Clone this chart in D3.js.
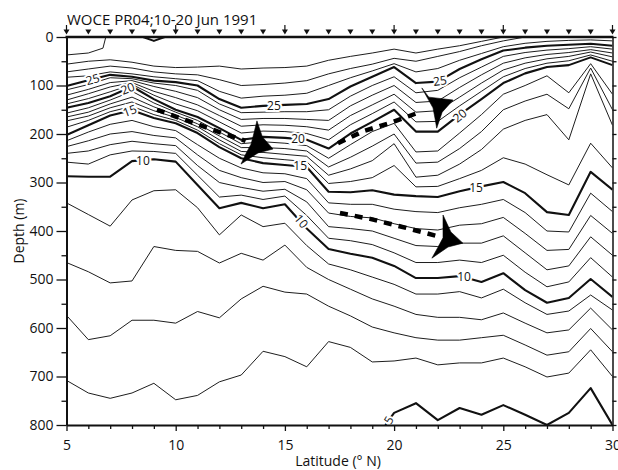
<!DOCTYPE html>
<html>
<head>
<meta charset="utf-8">
<script src="https://cdn.jsdelivr.net/npm/d3@7"></script>
<style>
  body { margin: 0; background: #fff; }
  text { font-family: "Open Sans", "Liberation Sans", sans-serif; }
</style>
</head>
<body>
<div id="chart"></div>
<script>
// station latitudes (deg N)
var stations = [5, 6, 7, 8, 9, 10, 11, 12, 13, 14, 15, 16, 17, 18, 19, 20, 21, 22, 23, 24, 25, 26, 27, 28, 29, 30];
var stemStations = [5, 10, 15, 20, 25, 30];

// isotherm depths (m) at each station
var t28 = [56, 50, 47, 52, 60, 63, 62, 60, 66, 64, 63, 60, 48, 40, 33, 25, 33, 25, 18, 9, 0, null, null, null, null, null];
var t27 = [72, 66, 60, 64, 72, 76, 78, 88, 100, 98, 95, 90, 76, 65, 56, 44, 50, 40, 30, 18, 8, 0, null, null, null, null];
var t26 = [83, 80, 72, 76, 82, 86, 90, 112, 126, 122, 120, 116, 100, 84, 70, 55, 72, 65, 48, 34, 20, 13, 9, 7, 6, 8];
var t25 = [101, 89, 78, 82, 90, 93, 100, 128, 146, 142, 140, 138, 128, 102, 82, 62, 95, 92, 66, 46, 28, 22, 18, 16, 14, 18];
var t24 = [109, 98, 84, 86, 95, 100, 110, 138, 156, 155, 154, 154, 150, 122, 100, 82, 115, 110, 84, 62, 40, 32, 27, 24, 20, 25];
var t23 = [120, 108, 94, 90, 102, 112, 125, 150, 170, 168, 168, 170, 172, 142, 120, 100, 135, 132, 104, 78, 54, 43, 36, 32, 26, 33];
var t22 = [130, 117, 103, 94, 112, 125, 140, 162, 184, 181, 182, 185, 192, 162, 140, 118, 155, 152, 124, 95, 68, 54, 45, 40, 31, 41];
var t21 = [138, 127, 113, 98, 120, 138, 152, 175, 198, 194, 195, 199, 212, 181, 158, 134, 175, 174, 142, 112, 82, 65, 54, 49, 37, 50];
var t20 = [146, 136, 122, 102, 128, 150, 165, 188, 212, 206, 208, 212, 230, 199, 175, 150, 195, 195, 160, 128, 95, 75, 62, 58, 42, 58];
var t19 = [157, 146, 130, 112, 136, 155, 172, 196, 220, 216, 219, 224, 250, 222, 195, 178, 237, 235, 198, 160, 118, 100, 80, 115, 55, 118];
var t18 = [165, 155, 138, 124, 144, 161, 179, 204, 228, 228, 230, 235, 268, 248, 225, 200, 260, 258, 230, 195, 150, 132, 118, 148, 64, 150];
var t17 = [173, 163, 146, 134, 152, 166, 185, 212, 236, 238, 242, 246, 285, 272, 255, 220, 289, 285, 262, 232, 190, 172, 160, 212, 76, 182];
var t16 = [186, 172, 154, 143, 160, 172, 192, 220, 243, 249, 253, 257, 302, 298, 290, 265, 309, 308, 292, 275, 249, 262, 284, 305, 219, 270];
var t15 = [202, 182, 162, 151, 167, 178, 198, 227, 250, 260, 264, 268, 319, 320, 316, 325, 328, 330, 318, 308, 299, 322, 361, 367, 278, 315];
var t14 = [214, 196, 180, 172, 185, 193, 222, 250, 270, 280, 282, 292, 342, 345, 345, 355, 360, 362, 352, 345, 335, 362, 400, 402, 322, 360];
var t13 = [226, 214, 200, 195, 203, 208, 243, 275, 290, 300, 298, 315, 363, 370, 373, 385, 395, 398, 388, 385, 372, 405, 440, 438, 368, 405];
var t12 = [240, 235, 222, 215, 220, 224, 265, 300, 310, 318, 314, 340, 391, 395, 400, 415, 430, 432, 425, 425, 410, 445, 480, 472, 412, 450];
var t11 = [258, 262, 243, 235, 236, 240, 285, 330, 326, 335, 328, 368, 415, 420, 428, 445, 465, 465, 460, 465, 450, 485, 515, 505, 455, 495];
var t10 = [287, 288, 288, 256, 252, 257, 305, 353, 342, 353, 345, 395, 437, 447, 455, 472, 497, 497, 493, 505, 487, 522, 548, 538, 499, 536];
var t9 = [342, 366, 390, 336, 317, 315, 352, 408, 367, 391, 384, 430, 468, 480, 495, 510, 530, 530, 525, 538, 520, 548, 572, 565, 532, 563];
var t8 = [465, 484, 507, 503, 432, 440, 442, 466, 446, 460, 429, 475, 500, 520, 540, 555, 572, 578, 578, 583, 569, 590, 610, 604, 559, 604];
var t7 = [574, 624, 616, 584, 584, 590, 566, 579, 540, 514, 526, 530, 555, 575, 598, 610, 620, 625, 625, 620, 615, 635, 656, 649, 601, 649];
var t6 = [708, 734, 745, 734, 714, 748, 739, 711, 697, 648, 659, 680, 628, 640, 670, 668, 662, 676, 672, 672, 662, 680, 701, 693, 645, 700];
var t5 = [null, null, null, null, null, null, null, null, null, null, null, null, null, null, null, 775, 755, 790, 765, 779, 759, 779, 800, 775, 724, 800];

// short pieces off the station grid: [lat, depth]
var t29Piece = [[5, 37], [6, 33], [6.67, 23], [6.8, 0]];
var surfacePocket = [[8.5, 0], [9, 8], [9.5, 0]];
var t5Start = [[19.6, 800]];

// contour labels: temp, lat, depth, angle
var contourLabels = [
    [25, 6.2, 87, -15], [20, 7.8, 106, -22], [15, 7.9, 152, -20], [10, 8.5, 254, 0],
    [25, 14.5, 142, 0], [20, 15.6, 210, 0], [15, 15.7, 266, 0], [10, 15.75, 380, 50],
    [25, 22.1, 90, -8], [20, 23.0, 162, -40], [15, 23.75, 311, 0], [10, 23.2, 495, 0],
    [5, 19.75, 790, -60]
];

// flow arrows: dashed shaft and swept head outline, in lat / depth
var arrowShafts = [
    [[9.14, 150], [10.5, 172], [12.0, 196], [13.2, 214]],
    [[17.43, 219], [18.6, 194], [19.9, 176], [21.05, 157]],
    [[17.52, 363], [18.9, 375], [20.5, 393], [22.1, 412]]
];
var arrowHeads = [
    [[14.455, 231], [13.97, 206], [13.72, 173], [13.59, 197], [13.45, 221], [13.22, 240], [12.99, 262], [13.77, 239]],
    [[22.70, 130], [21.59, 124], [21.27, 105], [21.53, 126], [21.78, 146], [21.87, 167], [21.95, 188], [22.20, 155]],
    [[23.15, 425], [22.60, 402], [22.24, 367], [22.24, 391], [22.24, 414], [21.99, 435], [21.73, 456], [22.47, 433]]
];

var depthTicks = [0, 100, 200, 300, 400, 500, 600, 700, 800];
var depthMinor = [50, 150, 250, 350, 450, 550, 650, 750];
var latTicks = [5, 10, 15, 20, 25, 30];

var svgWidth = 618;
var svgHeight = 470;
var margin = { top: 37, right: 5.5, bottom: 45, left: 66.5 };
var width = svgWidth - margin.left - margin.right;
var height = 388;

var svg = d3.select("#chart")
    .append("svg")
    .attr("width", svgWidth)
    .attr("height", svgHeight);

var chartGroup = svg.append("g")
    .attr("transform", `translate(${margin.left}, ${margin.top})`);

var xScale = d3.scaleLinear().domain([5, 30]).range([0, width]);
var yScale = d3.scaleLinear().domain([0, 800]).range([0, height]);

chartGroup.append("clipPath").attr("id", "plotClip")
    .append("rect").attr("width", width).attr("height", height);

var plot = chartGroup.append("g").attr("clip-path", "url(#plotClip)");

var line = d3.line()
    .defined(d => d[1] !== null)
    .x(d => xScale(d[0]))
    .y(d => yScale(d[1]));

var isotherms = [
    [28, t28], [27, t27], [26, t26], [25, t25], [24, t24], [23, t23], [22, t22],
    [21, t21], [20, t20], [19, t19], [18, t18], [17, t17], [16, t16], [15, t15],
    [14, t14], [13, t13], [12, t12], [11, t11], [10, t10], [9, t9], [8, t8],
    [7, t7], [6, t6], [5, t5]
].map(function(d) {
    var pts = stations.map((s, i) => [s, d[1][i]]);
    if (d[0] === 5) pts = t5Start.concat(pts.filter(p => p[1] !== null));
    return { temp: d[0], points: pts };
});
isotherms.push({ temp: 29, points: t29Piece });
isotherms.push({ temp: 30, points: surfacePocket });

plot.selectAll("path.iso")
    .data(isotherms)
    .enter()
    .append("path")
    .classed("iso", true)
    .attr("d", d => line(d.points))
    .attr("fill", "none")
    .attr("stroke", "#111")
    .attr("stroke-linejoin", "round")
    .attr("stroke-width", d => d.temp % 5 === 0 ? 2.1 : 0.95);

// labels on the contours, with a white halo to break the line
plot.selectAll("text.clabel")
    .data(contourLabels)
    .enter()
    .append("text")
    .classed("clabel", true)
    .attr("transform", d => `translate(${xScale(d[1])}, ${yScale(d[2])}) rotate(${d[3]})`)
    .attr("text-anchor", "middle")
    .attr("dy", "0.36em")
    .attr("font-size", 12)
    .attr("fill", "#111")
    .attr("stroke", "#fff")
    .attr("stroke-width", 4)
    .attr("paint-order", "stroke")
    .text(d => d[0]);

// arrows
plot.selectAll("path.shaft")
    .data(arrowShafts)
    .enter()
    .append("path")
    .classed("shaft", true)
    .attr("d", d => line(d))
    .attr("fill", "none")
    .attr("stroke", "#000")
    .attr("stroke-width", 4.5)
    .attr("stroke-dasharray", "8,7");

var headLine = d3.line()
    .x(d => xScale(d[0]))
    .y(d => yScale(d[1]))
    .curve(d3.curveLinearClosed);

plot.selectAll("path.head")
    .data(arrowHeads)
    .enter()
    .append("path")
    .classed("head", true)
    .attr("d", d => headLine(d))
    .attr("fill", "#000")
    .attr("stroke", "#000")
    .attr("stroke-width", 0.6)
    .attr("stroke-linejoin", "miter");

// axes
var fontFamily = '"Open Sans", "Liberation Sans", sans-serif';

var leftAxis = chartGroup.append("g")
    .call(d3.axisLeft(yScale).tickValues(depthTicks).tickSize(10).tickSizeOuter(0).tickPadding(3));
var leftMinor = chartGroup.append("g")
    .call(d3.axisLeft(yScale).tickValues(depthMinor).tickSize(5).tickFormat(""));
leftMinor.select(".domain").remove();

var rightAxis = chartGroup.append("g")
    .attr("transform", `translate(${width}, 0)`)
    .call(d3.axisRight(yScale).tickValues(depthTicks.concat(depthMinor)).tickSize(4).tickSizeOuter(0).tickFormat(""));

var bottomAxis = chartGroup.append("g")
    .attr("transform", `translate(0, ${height})`)
    .call(d3.axisBottom(xScale).tickValues(latTicks).tickSize(6).tickSizeOuter(0).tickPadding(9));
var bottomMinor = chartGroup.append("g")
    .attr("transform", `translate(0, ${height})`)
    .call(d3.axisBottom(xScale).tickValues(stations.filter(s => latTicks.indexOf(s) < 0)).tickSize(4).tickFormat(""));
bottomMinor.select(".domain").remove();

chartGroup.selectAll(".tick text")
    .attr("font-size", 14)
    .attr("font-family", fontFamily)
    .attr("fill", "#111");
chartGroup.selectAll(".tick line").attr("stroke", "#111").attr("stroke-width", 1.3);
leftAxis.select(".domain").attr("stroke", "#111").attr("stroke-width", 2);
bottomAxis.select(".domain").attr("stroke", "#111").attr("stroke-width", 2);
rightAxis.select(".domain").attr("stroke", "#111").attr("stroke-width", 1.5);

// top edge with station markers
chartGroup.append("line")
    .attr("x1", -1).attr("x2", width + 1)
    .attr("y1", 0).attr("y2", 0)
    .attr("stroke", "#111")
    .attr("stroke-width", 2.5);

chartGroup.selectAll("path.station")
    .data(stations)
    .enter()
    .append("path")
    .classed("station", true)
    .attr("d", d => `M${xScale(d) - 3},-7.5 L${xScale(d) + 3},-7.5 L${xScale(d)},-2.5 Z`)
    .attr("fill", "#111");

chartGroup.selectAll("line.stem")
    .data(stemStations)
    .enter()
    .append("line")
    .classed("stem", true)
    .attr("x1", d => xScale(d)).attr("x2", d => xScale(d))
    .attr("y1", -12).attr("y2", -7)
    .attr("stroke", "#111")
    .attr("stroke-width", 1.2);

// titles
svg.append("text")
    .attr("x", 67)
    .attr("y", 25)
    .attr("font-size", 15)
    .attr("fill", "#111")
    .text("WOCE PR04;10-20 Jun 1991");

svg.append("text")
    .attr("transform", "rotate(-90)")
    .attr("x", -231)
    .attr("y", 24)
    .attr("text-anchor", "middle")
    .attr("font-size", 14)
    .attr("fill", "#111")
    .text("Depth (m)");

svg.append("text")
    .attr("x", 338)
    .attr("y", 466)
    .attr("text-anchor", "middle")
    .attr("font-size", 14)
    .attr("fill", "#111")
    .text("Latitude (° N)");
</script>
</body>
</html>
